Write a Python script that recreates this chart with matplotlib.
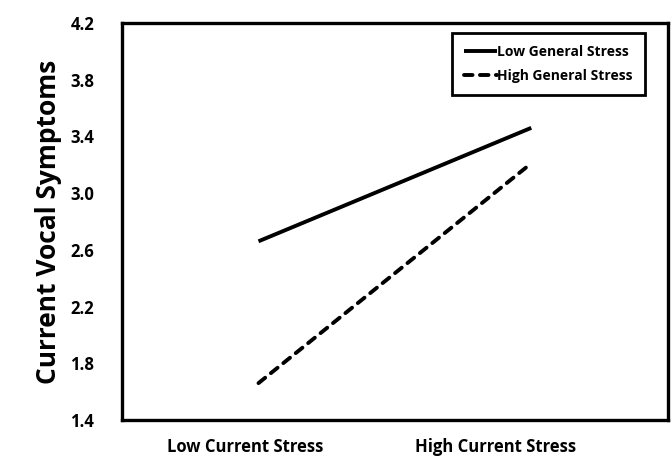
import numpy as np
import matplotlib.pyplot as plt

plt.rcParams['font.family'] = ['Open Sans', 'DejaVu Sans']

conditions = ['Low Current Stress', 'High Current Stress']
low_general = [2.66, 3.46]
high_general = [1.66, 3.21]
yticks = [1.4, 1.8, 2.2, 2.6, 3.0, 3.4, 3.8, 4.2]

fig = plt.figure(figsize=(6.71, 4.58), dpi=100)
ax = fig.add_axes([0.182, 0.083, 0.813, 0.867])

x = np.arange(len(conditions))
ax.plot(x, low_general, color='black', lw=2.8, solid_capstyle='butt', label='Low General Stress')
ax.plot(x, high_general, color='black', lw=2.8, ls=(0, (2.2, 1.9)), dash_capstyle='round',
        label='High General Stress')

ax.set_xlim(-0.5, 1.5)
ax.set_ylim(1.4, 4.2)
ax.set_yticks(yticks)
ax.set_yticklabels([f'{v:.1f}' for v in yticks], fontsize=12, fontweight='bold')
ax.tick_params(axis='y', length=0, pad=20)
ax.set_xticks([])
for s in ax.spines.values():
    s.set_linewidth(2.4)

# category labels sit slightly left of the line ends
label_x = [-0.05, 0.87]
for lx, name in zip(label_x, conditions):
    ax.text(lx, -0.045, name, transform=ax.get_xaxis_transform(), ha='center', va='top',
            fontsize=12, fontweight='bold')

ax.set_ylabel('Current Vocal Symptoms', fontsize=19, fontweight='bold', labelpad=6)

leg = ax.legend(loc='upper right', bbox_to_anchor=(0.958, 0.975), borderaxespad=0,
                prop={'weight': 'bold', 'size': 10}, handlelength=2.4, handletextpad=0.0,
                fancybox=False, edgecolor='black', framealpha=1, borderpad=0.85,
                labelspacing=0.75)
leg.get_frame().set_linewidth(2.0)

fig.savefig('out.png', dpi=100)
